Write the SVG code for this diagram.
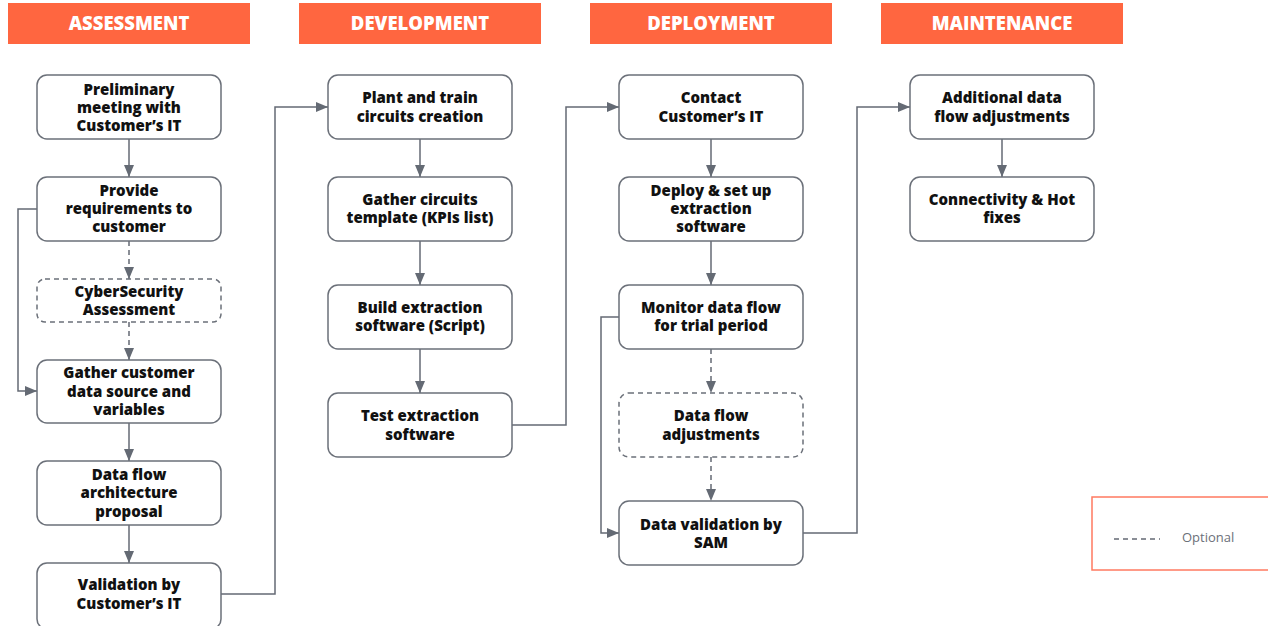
<svg xmlns="http://www.w3.org/2000/svg" width="1268" height="626" viewBox="0 0 1268 626">
<style>
.hdr{fill:#FF6640}
.ht{font-family:"Open Sans","Liberation Sans",sans-serif;font-weight:800;font-size:18.5px;fill:#fff;text-anchor:middle}
.n{fill:#fff;stroke:#6b7079;stroke-width:1.5}
.d{stroke-dasharray:5 4}
.t{font-family:"Open Sans","Liberation Sans",sans-serif;font-weight:800;font-size:15px;fill:#111;text-anchor:middle}
.c{fill:none;stroke:#646a74;stroke-width:1.5}
</style>
<defs>
<marker id="ah" viewBox="0 0 12 10" refX="12" refY="5" markerWidth="12" markerHeight="10" markerUnits="userSpaceOnUse" orient="auto">
<path d="M0,0 L12,5 L0,10 Z" fill="#646a74"/>
</marker>
</defs>
<rect width="1268" height="626" fill="#fff"/>
<g id="headers">
<rect class="hdr" x="8" y="3" width="242" height="41"/><text class="ht" x="129" y="30">ASSESSMENT</text>
<rect class="hdr" x="299" y="3" width="242" height="41"/><text class="ht" x="420" y="30">DEVELOPMENT</text>
<rect class="hdr" x="590" y="3" width="242" height="41"/><text class="ht" x="711" y="30">DEPLOYMENT</text>
<rect class="hdr" x="881" y="3" width="242" height="41"/><text class="ht" x="1002" y="30">MAINTENANCE</text>
</g>
<g id="connectors">
<path class="c" d="M129,139 V177" marker-end="url(#ah)"/>
<path class="c d" d="M129,241 V279" marker-end="url(#ah)"/>
<path class="c d" d="M129,322 V360" marker-end="url(#ah)"/>
<path class="c" d="M129,423 V461" marker-end="url(#ah)"/>
<path class="c" d="M129,525 V563" marker-end="url(#ah)"/>
<path class="c" d="M37,209 H18 V391 H37" marker-end="url(#ah)"/>
<path class="c" d="M221,594 H275 V107 H328" marker-end="url(#ah)"/>
<path class="c" d="M420,139 V177" marker-end="url(#ah)"/>
<path class="c" d="M420,241 V285" marker-end="url(#ah)"/>
<path class="c" d="M420,349 V393" marker-end="url(#ah)"/>
<path class="c" d="M512,425 H566 V107 H619" marker-end="url(#ah)"/>
<path class="c" d="M711,139 V177" marker-end="url(#ah)"/>
<path class="c" d="M711,241 V285" marker-end="url(#ah)"/>
<path class="c d" d="M711,349 V393" marker-end="url(#ah)"/>
<path class="c d" d="M711,457 V501" marker-end="url(#ah)"/>
<path class="c" d="M619,317 H601 V533 H619" marker-end="url(#ah)"/>
<path class="c" d="M803,533 H857 V107 H910" marker-end="url(#ah)"/>
<path class="c" d="M1002,139 V177" marker-end="url(#ah)"/>
</g>
<g id="n1"><rect class="n" x="37" y="75" width="184" height="64" rx="10"/><text class="t" x="129" y="95">Preliminary</text><text class="t" x="129" y="113">meeting with</text><text class="t" x="129" y="131">Customer’s IT</text></g>
<g id="n2"><rect class="n" x="37" y="177" width="184" height="64" rx="10"/><text class="t" x="129" y="196">Provide</text><text class="t" x="129" y="214">requirements to</text><text class="t" x="129" y="232">customer</text></g>
<g id="n3"><rect class="n d" x="37" y="279" width="184" height="43" rx="8"/><text class="t" x="129" y="297">CyberSecurity</text><text class="t" x="129" y="315">Assessment</text></g>
<g id="n4"><rect class="n" x="37" y="360" width="184" height="63" rx="10"/><text class="t" x="129" y="378">Gather customer</text><text class="t" x="129" y="397">data source and</text><text class="t" x="129" y="415">variables</text></g>
<g id="n5"><rect class="n" x="37" y="461" width="184" height="64" rx="10"/><text class="t" x="129" y="480">Data flow</text><text class="t" x="129" y="498">architecture</text><text class="t" x="129" y="517">proposal</text></g>
<g id="n6"><rect class="n" x="37" y="563" width="184" height="66" rx="10"/><text class="t" x="129" y="590">Validation by</text><text class="t" x="129" y="609">Customer’s IT</text></g>
<g id="n7"><rect class="n" x="328" y="75" width="184" height="64" rx="10"/><text class="t" x="420" y="103">Plant and train</text><text class="t" x="420" y="122">circuits creation</text></g>
<g id="n8"><rect class="n" x="328" y="177" width="184" height="64" rx="10"/><text class="t" x="420" y="205">Gather circuits</text><text class="t" x="420" y="223">template (KPIs list)</text></g>
<g id="n9"><rect class="n" x="328" y="285" width="184" height="64" rx="10"/><text class="t" x="420" y="313">Build extraction</text><text class="t" x="420" y="331">software (Script)</text></g>
<g id="n10"><rect class="n" x="328" y="393" width="184" height="64" rx="10"/><text class="t" x="420" y="421">Test extraction</text><text class="t" x="420" y="440">software</text></g>
<g id="n11"><rect class="n" x="619" y="75" width="184" height="64" rx="10"/><text class="t" x="711" y="103">Contact</text><text class="t" x="711" y="122">Customer’s IT</text></g>
<g id="n12"><rect class="n" x="619" y="177" width="184" height="64" rx="10"/><text class="t" x="711" y="196">Deploy &amp; set up</text><text class="t" x="711" y="214">extraction</text><text class="t" x="711" y="232">software</text></g>
<g id="n13"><rect class="n" x="619" y="285" width="184" height="64" rx="10"/><text class="t" x="711" y="313">Monitor data flow</text><text class="t" x="711" y="331">for trial period</text></g>
<g id="n14"><rect class="n d" x="619" y="393" width="184" height="64" rx="10"/><text class="t" x="711" y="421">Data flow</text><text class="t" x="711" y="440">adjustments</text></g>
<g id="n15"><rect class="n" x="619" y="501" width="184" height="64" rx="10"/><text class="t" x="711" y="530">Data validation by</text><text class="t" x="711" y="548">SAM</text></g>
<g id="n16"><rect class="n" x="910" y="75" width="184" height="64" rx="10"/><text class="t" x="1002" y="103">Additional data</text><text class="t" x="1002" y="122">flow adjustments</text></g>
<g id="n17"><rect class="n" x="910" y="177" width="184" height="64" rx="10"/><text class="t" x="1002" y="205">Connectivity &amp; Hot</text><text class="t" x="1002" y="223">fixes</text></g>
<g id="legend">
<rect x="1092" y="497" width="190" height="73" fill="#fff" stroke="#FF7A60" stroke-width="1.5"/>
<line x1="1114" y1="539" x2="1160" y2="539" stroke="#646a74" stroke-width="1.5" stroke-dasharray="5 4"/>
<text x="1182" y="542" font-family="'Open Sans','Liberation Sans',sans-serif" font-size="13" fill="#6b7079">Optional</text>
</g>
</svg>
